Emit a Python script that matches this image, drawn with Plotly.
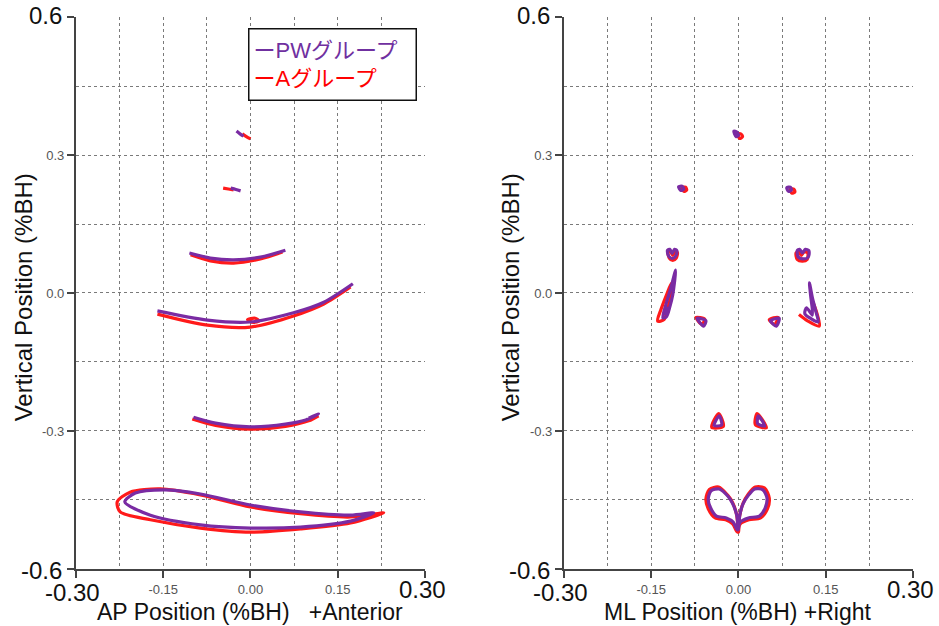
import plotly.graph_objects as go

PURPLE = "#7A2BA3"
RED = "#FF1A1A"

# ---------------- AP panel (left): segments of x / y values ----------------
ap_pw_x = [
    [-0.024, -0.018, -0.012],
    [-0.034, -0.025, -0.017],
    [-0.105, -0.069, -0.029, 0.017, 0.060],
    [-0.160, -0.074, 0.000, 0.074, 0.126, 0.176],
    [-0.098, -0.060, 0.000, 0.060, 0.095, 0.117, 0.100],
    [-0.147, -0.086, 0.000, 0.086, 0.172, 0.212, 0.172, 0.086, 0.000, -0.086, -0.172, -0.216, -0.198, -0.147],
]
ap_pw_y = [
    [0.352, 0.346, 0.341],
    [0.228, 0.225, 0.222],
    [0.087, 0.076, 0.072, 0.078, 0.093],
    [-0.039, -0.059, -0.063, -0.043, -0.020, 0.020],
    [-0.270, -0.283, -0.291, -0.285, -0.276, -0.263, -0.272],
    [-0.428, -0.437, -0.461, -0.476, -0.483, -0.478, -0.496, -0.509, -0.511, -0.504, -0.483, -0.454, -0.435, -0.428],
]
ap_a_x = [
    [-0.014, -0.007, 0.000],
    [-0.047, -0.038, -0.029],
    [-0.103, -0.069, -0.029, 0.017, 0.055],
    [-0.160, -0.074, 0.000, 0.074, 0.126, 0.172],
    [-0.005, 0.008, 0.015, 0.005, -0.005],
    [-0.100, -0.060, 0.000, 0.060, 0.100, 0.117],
    [-0.155, -0.086, 0.000, 0.086, 0.172, 0.229, 0.172, 0.086, 0.000, -0.086, -0.172, -0.224, -0.229, -0.207, -0.155],
]
ap_a_y = [
    [0.346, 0.340, 0.335],
    [0.228, 0.226, 0.224],
    [0.083, 0.070, 0.065, 0.074, 0.089],
    [-0.046, -0.070, -0.074, -0.050, -0.024, 0.013],
    [-0.058, -0.055, -0.061, -0.064, -0.058],
    [-0.274, -0.288, -0.296, -0.290, -0.278, -0.267],
    [-0.426, -0.439, -0.465, -0.480, -0.487, -0.478, -0.500, -0.513, -0.520, -0.511, -0.493, -0.476, -0.454, -0.433, -0.426],
]

# ---------------- ML panel (right) ----------------
ml_pw_x = [
    [-0.008, -0.003, 0.000, -0.004, -0.008],
    [-0.103, -0.097, -0.094, -0.099, -0.103],
    [0.083, 0.089, 0.091, 0.086, 0.083],
    [-0.122, -0.118, -0.114, -0.110, -0.106, -0.108, -0.114, -0.120, -0.122],
    [-0.108, -0.116, -0.124, -0.130, -0.124, -0.118, -0.113, -0.108],
    [-0.121, -0.126, -0.121],
    [-0.071, -0.056, -0.060, -0.071],
    [0.055, 0.070, 0.065, 0.055],
    [0.101, 0.105, 0.110, 0.115, 0.121, 0.120, 0.112, 0.103, 0.101],
    [0.122, 0.127, 0.133, 0.137, 0.125, 0.114, 0.117, 0.127, 0.124, 0.122],
    [-0.033, -0.042, -0.029, -0.033],
    [0.034, 0.033, 0.045, 0.034],
    [0.000, -0.003, -0.010, -0.018, -0.033, -0.047, -0.052, -0.048, -0.038, -0.021, -0.009, -0.002,
     0.003, 0.017, 0.036, 0.046, 0.049, 0.042, 0.028, 0.017, 0.008, 0.002, 0.000],
]
ml_pw_y = [
    [0.352, 0.350, 0.343, 0.340, 0.352],
    [0.231, 0.232, 0.226, 0.223, 0.231],
    [0.229, 0.230, 0.224, 0.221, 0.229],
    [0.093, 0.095, 0.086, 0.095, 0.092, 0.080, 0.075, 0.080, 0.093],
    [0.050, 0.012, -0.022, -0.054, -0.052, -0.030, -0.004, 0.050],
    [-0.030, -0.046, -0.040],
    [-0.055, -0.060, -0.072, -0.055],
    [-0.060, -0.055, -0.072, -0.060],
    [0.092, 0.095, 0.087, 0.095, 0.092, 0.078, 0.074, 0.078, 0.092],
    [0.022, -0.010, -0.040, -0.063, -0.056, -0.045, -0.032, -0.048, -0.005, 0.022],
    [-0.267, -0.288, -0.287, -0.267],
    [-0.267, -0.284, -0.289, -0.267],
    [-0.515, -0.483, -0.458, -0.442, -0.426, -0.430, -0.448, -0.467, -0.485, -0.489, -0.498, -0.515,
     -0.498, -0.489, -0.485, -0.467, -0.446, -0.428, -0.426, -0.440, -0.458, -0.485, -0.515],
]
ml_a_x = [
    [-0.002, 0.004, 0.007, 0.002, -0.002],
    [-0.097, -0.091, -0.089, -0.094, -0.097],
    [0.089, 0.095, 0.097, 0.092, 0.089],
    [-0.121, -0.117, -0.113, -0.109, -0.105, -0.107, -0.113, -0.119, -0.121],
    [-0.115, -0.124, -0.133, -0.139, -0.128, -0.122, -0.117, -0.115],
    [-0.073, -0.058, -0.063, -0.073],
    [0.053, 0.068, 0.062, 0.053],
    [0.099, 0.103, 0.108, 0.113, 0.119, 0.118, 0.110, 0.101, 0.099],
    [0.104, 0.118, 0.139, 0.135, 0.128],
    [-0.034, -0.046, -0.026, -0.034],
    [0.032, 0.029, 0.048, 0.032],
    [0.000, -0.003, -0.010, -0.019, -0.034, -0.050, -0.056, -0.052, -0.040, -0.022, -0.010, -0.002,
     0.003, 0.018, 0.038, 0.050, 0.053, 0.045, 0.029, 0.017, 0.008, 0.002, 0.000],
]
ml_a_y = [
    [0.345, 0.346, 0.340, 0.336, 0.345],
    [0.229, 0.230, 0.224, 0.221, 0.229],
    [0.225, 0.226, 0.220, 0.217, 0.225],
    [0.089, 0.091, 0.082, 0.091, 0.088, 0.076, 0.071, 0.076, 0.089],
    [0.022, -0.005, -0.035, -0.061, -0.058, -0.035, -0.010, 0.022],
    [-0.053, -0.057, -0.068, -0.053],
    [-0.058, -0.053, -0.068, -0.058],
    [0.087, 0.090, 0.082, 0.090, 0.087, 0.073, 0.069, 0.073, 0.087],
    [-0.047, -0.060, -0.072, -0.045, -0.020],
    [-0.262, -0.292, -0.290, -0.262],
    [-0.262, -0.286, -0.293, -0.262],
    [-0.520, -0.483, -0.456, -0.439, -0.422, -0.427, -0.448, -0.469, -0.489, -0.493, -0.502, -0.520,
     -0.502, -0.493, -0.489, -0.469, -0.446, -0.424, -0.422, -0.437, -0.457, -0.485, -0.520],
]

x_major = [-0.30, -0.15, 0.00, 0.15, 0.30]
x_major_text = ["", "-0.15", "0.00", "0.15", ""]
y_major = [-0.6, -0.3, 0.0, 0.3, 0.6]
y_major_text = ["", "-0.3", "0.0", "0.3", ""]

legend_pw = "PWグループ"
legend_a = "Aグループ"


def join(segs):
    out = []
    for s in segs:
        out += list(s) + [None]
    return out[:-1]


fig = go.Figure()
for xs, ys, col, xa, ya in [
    (ap_a_x, ap_a_y, RED, "x", "y"),
    (ap_pw_x, ap_pw_y, PURPLE, "x", "y"),
    (ml_a_x, ml_a_y, RED, "x2", "y2"),
    (ml_pw_x, ml_pw_y, PURPLE, "x2", "y2"),
]:
    fig.add_trace(go.Scatter(
        x=join(xs), y=join(ys), mode="lines", xaxis=xa, yaxis=ya,
        line=dict(color=col, width=3.2, shape="spline", smoothing=0.8),
        showlegend=False, hoverinfo="skip", connectgaps=False,
    ))

grid = dict(showgrid=True, gridcolor="#7a7a7a", gridwidth=1, griddash="3px,3px")
axis_font = dict(family="Liberation Sans, Arial, sans-serif", size=13, color="#555555")

def xaxis(domain, anchor):
    return dict(domain=domain, anchor=anchor, range=[-0.30, 0.30], tickmode="array",
                tickvals=x_major, ticktext=x_major_text, ticks="outside", ticklen=7,
                tickwidth=2, tickcolor="#444444", showline=True, linecolor="#444444",
                linewidth=2, zeroline=False, tickfont=axis_font, fixedrange=True,
                minor=dict(dtick=0.075, tick0=0, ticks="", **grid), **grid)

def yaxis(anchor):
    return dict(domain=[0.0911, 0.9728], anchor=anchor, range=[-0.6, 0.6], tickmode="array",
                tickvals=y_major, ticktext=y_major_text, ticks="outside", ticklen=7,
                tickwidth=2, tickcolor="#444444", showline=True, linecolor="#444444",
                linewidth=2, zeroline=False, tickfont=axis_font, fixedrange=True,
                minor=dict(dtick=0.15, tick0=0, ticks="", **grid), **grid)

fig.update_layout(
    width=939, height=626, margin=dict(l=0, r=0, t=0, b=0),
    paper_bgcolor="white", plot_bgcolor="white",
    xaxis=xaxis([0.0809, 0.4526], "y"), yaxis=yaxis("x"),
    xaxis2=xaxis([0.6006, 0.9723], "y2"), yaxis2=yaxis("x2"),
    font=dict(family="Liberation Sans, Arial, sans-serif"),
)

big = dict(family="Liberation Sans, Arial, sans-serif", size=24, color="#111111")
title_font = dict(family="Liberation Sans, Arial, sans-serif", size=23, color="#111111")
ytitle_font = dict(family="Liberation Sans, Arial, sans-serif", size=24, color="#111111")
ann = []
for xr, yr in [("x", "y"), ("x2", "y2")]:
    ann += [
        dict(text="0.6", xref=xr + " domain", yref=yr, x=0, y=0.6, xanchor="right",
             yanchor="middle", xshift=-12, yshift=2, showarrow=False, font=big),
        dict(text="-0.6", xref=xr + " domain", yref=yr, x=0, y=-0.6, xanchor="right",
             yanchor="middle", xshift=-12, yshift=-2, showarrow=False, font=big),
        dict(text="-0.30", xref=xr, yref="paper", x=-0.30, y=0.053, xanchor="center",
             yanchor="middle", xshift=-3, showarrow=False, font=big),
        dict(text="0.30", xref=xr, yref="paper", x=0.30, y=0.059, xanchor="center",
             yanchor="middle", xshift=-2, showarrow=False, font=big),
    ]
ann.append(dict(text="AP Position (%BH)   +Anterior", xref="x domain", yref="paper", x=0.5,
                y=0.022, xanchor="center", yanchor="middle", showarrow=False, font=title_font))
ann.append(dict(text="ML Position (%BH) +Right", xref="x2 domain", yref="paper", x=0.5,
                y=0.022, xanchor="center", yanchor="middle", showarrow=False, font=title_font))
ann.append(dict(text="Vertical Position (%BH)", xref="paper", yref="paper", x=23 / 939,
                y=0.525, textangle=-90, xanchor="center", yanchor="middle",
                showarrow=False, font=ytitle_font))
ann.append(dict(text="Vertical Position (%BH)", xref="paper", yref="paper", x=510 / 939,
                y=0.525, textangle=-90, xanchor="center", yanchor="middle",
                showarrow=False, font=ytitle_font))
ann.append(dict(
    text=(f"<span style='color:#7030A0'>ー{legend_pw}</span><br>"
          f"<span style='color:#FF0000'>ー{legend_a}</span>"),
    xref="paper", yref="paper", x=332 / 939, y=1 - 65 / 626, xanchor="center", yanchor="middle",
    showarrow=False, align="left", bgcolor="white", bordercolor="#111111", borderwidth=1.5,
    borderpad=4, width=158, height=62,
    font=dict(family="Liberation Sans, Noto Sans CJK JP, sans-serif", size=22)))
fig.update_layout(annotations=ann)

fig.write_html("out.html")
